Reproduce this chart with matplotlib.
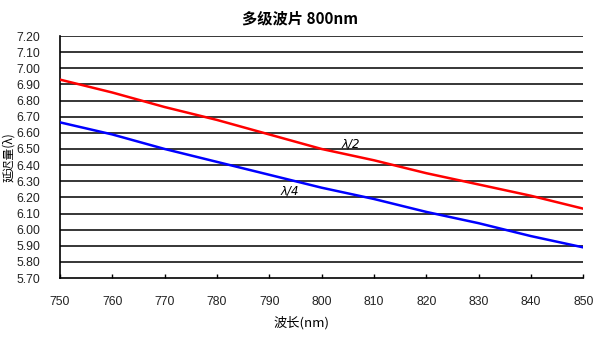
import matplotlib
matplotlib.use("Agg")
import matplotlib.pyplot as plt

plt.rcParams['font.family'] = ['Noto Sans CJK SC', 'DejaVu Sans']

wavelength = [750, 760, 770, 780, 790, 800, 810, 820, 830, 840, 850]
half_wave = [6.93, 6.85, 6.76, 6.68, 6.59, 6.50, 6.43, 6.35, 6.28, 6.21, 6.13]
quarter_wave = [6.665, 6.59, 6.50, 6.42, 6.34, 6.26, 6.19, 6.11, 6.04, 5.96, 5.89]
x_ticks = [750, 760, 770, 780, 790, 800, 810, 820, 830, 840, 850]
y_ticks = [5.70, 5.80, 5.90, 6.00, 6.10, 6.20, 6.30, 6.40, 6.50, 6.60, 6.70,
           6.80, 6.90, 7.00, 7.10, 7.20]

fig = plt.figure(figsize=(6.0, 3.37), dpi=100)
ax = fig.add_axes([0.1, 0.175, 0.872, 0.718])

for v in y_ticks[1:]:
    ax.axhline(v, color='black', lw=1.1, zorder=1)

ax.plot(wavelength, half_wave, color='#ff0000', lw=1.8, zorder=3)
ax.plot(wavelength, quarter_wave, color='#0000ff', lw=1.8, zorder=3)

ax.text(805.5, 6.53, 'λ/2', fontsize=8.5, ha='center', va='center', style='italic', family=['DejaVu Sans'])
ax.text(794, 6.24, 'λ/4', fontsize=8.5, ha='center', va='center', style='italic', family=['DejaVu Sans'])

ax.set_xlim(750, 850)
ax.set_ylim(5.70, 7.20)
ax.set_xticks(x_ticks)
ax.set_yticks(y_ticks)
ax.set_xticklabels([str(t) for t in x_ticks], family=['Liberation Sans'])
ax.set_yticklabels([f'{t:.2f}' for t in y_ticks], family=['Liberation Sans'])
ax.tick_params(axis='x', direction='in', length=3, width=1, pad=13, labelsize=8.8, labelcolor='#222222')
ax.tick_params(axis='y', length=0, pad=14, labelsize=8.8, labelcolor='#222222')

for s in ['top', 'right']:
    ax.spines[s].set_visible(False)
for s in ['left', 'bottom']:
    ax.spines[s].set_color('black')
    ax.spines[s].set_linewidth(1.2)

fig.text(0.502, 0.042, '波长(nm)', ha='center', va='center', fontsize=9.5)
ax.set_ylabel('延迟量(λ)', fontsize=8.5, va='center')
ax.yaxis.set_label_coords(-0.098, 0.5)
fig.text(0.5, 0.945, '多级波片 800nm', ha='center', va='center', fontsize=11, fontweight='bold')

fig.savefig('out.png', dpi=100)
